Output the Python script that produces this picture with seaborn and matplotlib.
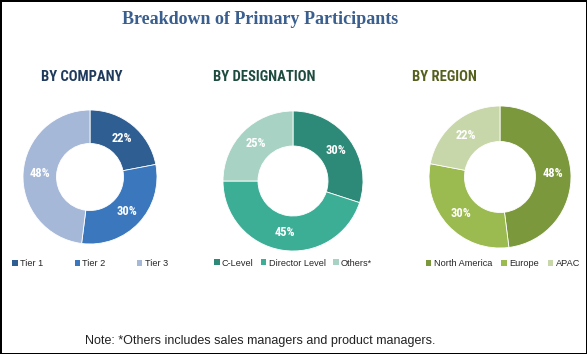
import matplotlib
matplotlib.use("Agg")
import matplotlib.pyplot as plt
import seaborn as sns
from matplotlib.patches import Patch

sns.set_theme(style="white")
plt.rcParams['font.family'] = ['Liberation Sans', 'DejaVu Sans']

company_labels = ["Tier 1", "Tier 2", "Tier 3"]
company_values = [22, 30, 48]
designation_labels = ["C-Level", "Director Level", "Others*"]
designation_values = [30, 45, 25]
region_labels = ["North America", "Europe", "APAC"]
region_values = [48, 30, 22]

company_colors = ["#2F5E92", "#3A77BD", "#A6B8D8"]
designation_colors = ["#2E8A78", "#3CAE96", "#A7D2C4"]
region_colors = ["#7B983D", "#9BBA4F", "#C8D7AA"]

W, H = 587, 354
fig = plt.figure(figsize=(W / 100, H / 100), dpi=100, linewidth=2, edgecolor="black")
fig.patch.set_facecolor("white")

COND = ["Roboto Condensed", "Liberation Sans Narrow", "Liberation Sans"]

def px_axes(cx, cy, r):
    return fig.add_axes([(cx - r) / W, (H - cy - r) / H, 2 * r / W, 2 * r / H])

panels = [
    (company_labels, company_values, company_colors, (90, 177, 67), "BY COMPANY", "#1F3A5C", 82, (90, 264), 3.4),
    (designation_labels, designation_values, designation_colors, (293, 181, 70), "BY DESIGNATION", "#1E4B3F", 264, (293, 263), 0.8),
    (region_labels, region_values, region_colors, (500, 177, 71), "BY REGION", "#55601F", 444, (503, 264), 1.0),
]

for labels, values, colors, (cx, cy, r), sub, subcol, subx, (lx, ly), cs in panels:
    ax = px_axes(cx, cy, r)
    wedges, texts, autotexts = ax.pie(
        values, colors=colors, startangle=90, counterclock=False,
        wedgeprops=dict(width=0.5, edgecolor="white", linewidth=0.6),
        autopct=lambda p: f"{p:.0f}%", pctdistance=0.75,
        textprops=dict(color="white", fontsize=9, fontweight="bold", family=COND),
    )
    ax.set_xlim(-1, 1)
    ax.set_ylim(-1, 1)
    ax.set_aspect("equal")
    ax.axis("off")
    fig.text(subx / W, 1 - 77 / H, sub, ha="center", va="center", fontsize=10.5,
             fontweight="bold", color=subcol, family=COND)
    handles = [Patch(facecolor=c, edgecolor="none") for c in colors]
    fig.legend(handles, labels, loc="center", bbox_to_anchor=(lx / W, 1 - ly / H),
               ncol=3, frameon=False, fontsize=6.6, handlelength=0.6, handleheight=0.6,
               handletextpad=0.25, columnspacing=cs)

fig.text(260 / W, 1 - 20 / H, "Breakdown of Primary Participants", ha="center", va="center",
         fontsize=13, fontweight="bold", color="#3A5E8E",
         family=["Liberation Serif", "DejaVu Serif"])
fig.text(260 / W, 1 - 341 / H, "Note: *Others includes sales managers and product managers.",
         ha="center", va="center", fontsize=9, color="#222222")

fig.savefig("out.png", dpi=100, facecolor="white", edgecolor="black")
